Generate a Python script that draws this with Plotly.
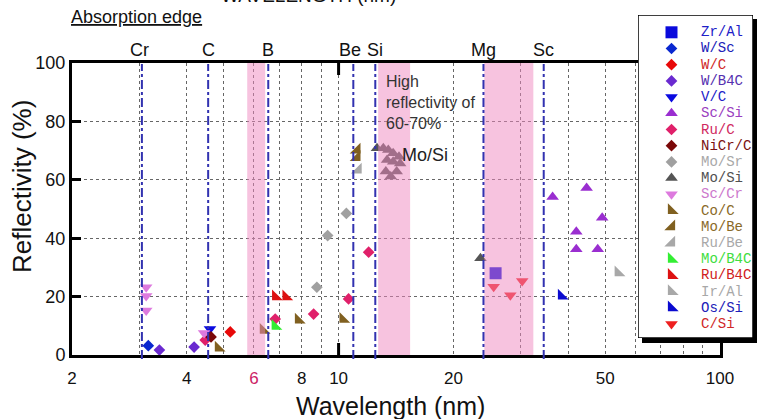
import math
import plotly.graph_objects as go

W, H = 757, 419

# ---------------- data (wavelength nm, reflectivity %) ----------------
series_names = ["Zr/Al", "W/Sc", "W/C", "W/B4C", "V/C", "Sc/Si", "Ru/C", "NiCr/C",
                "Mo/Sr", "Mo/Si", "Sc/Cr", "Co/C", "Mo/Be", "Ru/Be", "Mo/B4C",
                "Ru/B4C", "Ir/Al", "Os/Si", "C/Si"]

zr_al_wl = [25.8];  zr_al_r = [28.0]
w_sc_wl = [3.17];   w_sc_r = [3.2]
w_c_wl = [5.2];     w_c_r = [7.9]
w_b4c_wl = [3.39, 4.18]; w_b4c_r = [1.7, 2.7]
v_c_wl = [4.6];     v_c_r = [8.9]
sc_si_wl = [36.4, 44.7, 49.1, 42.0, 42.0, 47.8]
sc_si_r = [54.1, 57.2, 47.0, 42.2, 36.2, 36.2]
ru_c_wl = [4.47, 6.82, 8.6, 10.62, 11.99]
ru_c_r = [5.1, 12.3, 14.0, 19.2, 35.2]
nicr_c_wl = [4.63];  nicr_c_r = [6.2]
mo_sr_wl = [8.77, 9.36, 10.48]; mo_sr_r = [23.2, 40.9, 48.5]
mo_si_wl = [12.61, 13.1, 13.5, 13.9, 14.4, 13.4, 13.9, 14.5, 14.2, 13.3, 13.7, 23.55]
mo_si_r = [70.8, 70.8, 70.2, 69.1, 67.9, 66.8, 66.2, 65.6, 62.8, 62.8, 61.1, 33.1]
sc_cr_wl = [3.13, 3.13, 3.13, 4.44]; sc_cr_r = [23.2, 20.2, 15.2, 7.5]
co_c_wl = [4.84, 6.35, 7.85, 10.27]; co_c_r = [2.4, 8.5, 12.0, 12.3]
mo_be_wl = [11.17, 11.17]; mo_be_r = [70.2, 67.7]
ru_be_wl = [11.25];  ru_be_r = [63.4]
mo_b4c_wl = [6.82];  mo_b4c_r = [9.9]
ru_b4c_wl = [6.84, 7.28]; ru_b4c_r = [20.0, 20.0]
ir_al_wl = [54.1];   ir_al_r = [28.2]
os_si_wl = [38.4];   os_si_r = [20.2]
c_si_wl = [25.5, 28.2, 30.3]; c_si_r = [23.4, 20.5, 25.3]

series_x = [zr_al_wl, w_sc_wl, w_c_wl, w_b4c_wl, v_c_wl, sc_si_wl, ru_c_wl, nicr_c_wl,
            mo_sr_wl, mo_si_wl, sc_cr_wl, co_c_wl, mo_be_wl, ru_be_wl, mo_b4c_wl,
            ru_b4c_wl, ir_al_wl, os_si_wl, c_si_wl]
series_y = [zr_al_r, w_sc_r, w_c_r, w_b4c_r, v_c_r, sc_si_r, ru_c_r, nicr_c_r,
            mo_sr_r, mo_si_r, sc_cr_r, co_c_r, mo_be_r, ru_be_r, mo_b4c_r,
            ru_b4c_r, ir_al_r, os_si_r, c_si_r]

# absorption edges
edge_labels = ["Cr", "C", "B", "Be", "Si", "Mg", "Sc"]
edge_wl = [3.05, 4.55, 6.54, 10.93, 12.48, 23.98, 34.5]

# shaded bands
band_lo = [5.76, 12.7, 24.1]
band_hi = [6.42, 15.4, 32.4]

# axis ticks
x_tickvals = [2, 3, 4, 5, 6, 7, 8, 9, 10, 20, 30, 40, 50, 60, 70, 80, 90, 100]
x_ticktext = ["2", "", "4", "", '<span style="color:#cc2266">6</span>', "", "8", "", "10",
              "20", "", "", "50", "", "", "", "", "100"]
y_tickvals = [0, 20, 40, 60, 80, 100]

# ---------------- styles ----------------
symbols = ["square", "diamond", "diamond", "diamond", "triangle-down", "triangle-up",
           "diamond", "diamond", "diamond", "triangle-up", "triangle-down",
           "triangle-sw", "triangle-se", "triangle-se", "triangle-sw", "triangle-sw",
           "triangle-sw", "triangle-sw", "triangle-down"]
mcolors = ["#0a0adc", "#0a28d0", "#e80808", "#6a2ad0", "#0a0ae0", "#9a2ed0",
           "#e0206a", "#7a0808", "#a0a0a0", "#555555", "#dd7ade",
           "#806020", "#806020", "#a8a8a8", "#33ee33", "#dd1111",
           "#a8a8a8", "#0a0ad0", "#ee2020"]
tcolors = ["#2020c8", "#2020b8", "#d02828", "#5530b0", "#2020c8", "#9a40c0",
           "#d02860", "#7a1010", "#a8a8a8", "#505050", "#cc78cc",
           "#8a6a28", "#8a6a28", "#a8a8a8", "#40dd40", "#d02020",
           "#a8a8a8", "#2020b8", "#d02828"]
msizes = {"square": 12, "diamond": 9, "triangle-up": 11, "triangle-down": 11,
          "triangle-sw": 12, "triangle-se": 12}

def px2fx(px):
    return px / W

def py2fy(py):
    return 1 - py / H

X0, X1, Y0, Y1 = 72, 720, 63, 355          # plot area (pixels)
LX0, LX1, LY0, LY1 = 638, 753, 15, 338     # legend box (pixels)

fig = go.Figure()

for i, name in enumerate(series_names):
    fig.add_trace(go.Scatter(
        x=series_x[i], y=series_y[i], mode="markers", name=name, showlegend=False,
        marker=dict(symbol=symbols[i], size=msizes[symbols[i]], color=mcolors[i],
                    line=dict(width=0)),
        xaxis="x", yaxis="y", hoverinfo="skip"))

# custom legend (in its own small axes)
row0, rowstep = 32.3, 16.2
for i, name in enumerate(series_names):
    ry = row0 + rowstep * i
    fig.add_trace(go.Scatter(
        x=[671.5], y=[ry], mode="markers", showlegend=False,
        marker=dict(symbol=symbols[i], size=msizes[symbols[i]], color=mcolors[i],
                    line=dict(width=0)),
        xaxis="x2", yaxis="y2", hoverinfo="skip"))

shapes = []
# pink bands (drawn above markers, semi-transparent)
for lo, hi in zip(band_lo, band_hi):
    shapes.append(dict(type="rect", xref="x", yref="y", x0=lo, x1=hi, y0=0, y1=100,
                       fillcolor="#f088c0", opacity=0.5, line=dict(width=0),
                       layer="above"))
# absorption edge lines
for wl in edge_wl:
    shapes.append(dict(type="line", xref="x", yref="paper", x0=wl, x1=wl,
                       y0=py2fy(359), y1=py2fy(Y0 + 1),
                       line=dict(color="#3232b0", width=2, dash="dashdot"),
                       layer="above"))
# tick marks at 10 nm
shapes.append(dict(type="line", xref="x", yref="paper", x0=10, x1=10,
                   y0=py2fy(Y1), y1=py2fy(Y1 - 12), line=dict(color="black", width=3)))
shapes.append(dict(type="line", xref="x", yref="paper", x0=10, x1=10,
                   y0=py2fy(Y0), y1=py2fy(Y0 + 12), line=dict(color="black", width=3)))
# legend box
shapes.append(dict(type="rect", xref="x2", yref="y2", x0=LX0, x1=LX1, y0=LY1, y1=LY0,
                   fillcolor="white", line=dict(color="black", width=1.5), layer="below"))
# legend shadow
shapes.append(dict(type="rect", xref="paper", yref="paper", x0=px2fx(LX1), x1=px2fx(757),
                   y0=py2fy(343), y1=py2fy(LY0 + 4), fillcolor="black",
                   line=dict(width=0), layer="above"))
shapes.append(dict(type="rect", xref="paper", yref="paper", x0=px2fx(LX0 + 4), x1=px2fx(757),
                   y0=py2fy(343), y1=py2fy(LY1), fillcolor="black",
                   line=dict(width=0), layer="above"))

ann = []
FONT = "Liberation Sans, Arial, sans-serif"
for lab, wl in zip(edge_labels, edge_wl):
    xs = -3 if lab == "Be" else (-2 if lab == "Cr" else 0)
    ann.append(dict(text=lab, xref="x", yref="paper", x=math.log10(wl), y=py2fy(50),
                    xanchor="center", yanchor="middle", showarrow=False, xshift=xs,
                    font=dict(family=FONT, size=18, color="#111")))
for i, name in enumerate(series_names):
    ry = row0 + rowstep * i
    ann.append(dict(text=name, xref="x2", yref="y2", x=699, y=ry, xanchor="left",
                    yanchor="middle", showarrow=False,
                    font=dict(family="Liberation Mono, DejaVu Sans Mono, monospace",
                              size=14, color=tcolors[i])))
ann.append(dict(text="Absorption edge", xref="paper", yref="paper", x=px2fx(69),
                y=py2fy(17), xanchor="left", yanchor="middle", showarrow=False,
                font=dict(family=FONT, size=18, color="#111", lineposition="under")))
ann.append(dict(text="WAVELENGTH (nm)", xref="paper", yref="paper", x=px2fx(219),
                y=py2fy(-5), xanchor="left", yanchor="middle", showarrow=False,
                font=dict(family=FONT, size=19, color="#111")))
ann.append(dict(text="High<br>reflectivity of<br>60-70%", xref="paper", yref="paper",
                x=px2fx(384), y=py2fy(71), xanchor="left", yanchor="top", align="left",
                showarrow=False, font=dict(family=FONT, size=16, color="#333")))
ann.append(dict(text="Mo/Si", xref="paper", yref="paper", x=px2fx(400), y=py2fy(155),
                xanchor="left", yanchor="middle", showarrow=False,
                font=dict(family=FONT, size=18, color="#222")))
ann.append(dict(text="Reflectivity (%)", xref="paper", yref="paper", x=px2fx(22),
                y=py2fy(187), xanchor="center", yanchor="middle", textangle=-90,
                showarrow=False, font=dict(family=FONT, size=26, color="#111")))
ann.append(dict(text="Wavelength (nm)", xref="paper", yref="paper", x=px2fx(390),
                y=py2fy(406), xanchor="center", yanchor="middle",
                showarrow=False, font=dict(family=FONT, size=25, color="#111")))

fig.update_layout(
    width=W, height=H,
    margin=dict(l=0, r=0, t=0, b=0),
    paper_bgcolor="white", plot_bgcolor="white",
    font=dict(family=FONT, color="#111"),
    showlegend=False,
    shapes=shapes, annotations=ann,
    xaxis=dict(type="log", range=[math.log10(2), 2], domain=[X0 / W, X1 / W],
               tickvals=x_tickvals, ticktext=x_ticktext, ticks="",
               tickfont=dict(size=17, family=FONT, color="#111"),
               showgrid=True, gridcolor="#666", griddash="dot", gridwidth=1,
               showline=True, linecolor="black", linewidth=3, mirror=True,
               zeroline=False, ticklabelstandoff=6, automargin=False, fixedrange=True),
    yaxis=dict(range=[0, 100], domain=[1 - Y1 / H, 1 - Y0 / H],
               tickvals=y_tickvals, ticks="inside", ticklen=9, tickwidth=3,
               tickcolor="black", tickfont=dict(size=18, family=FONT, color="#111"),
               showgrid=True, gridcolor="#666", griddash="dot", gridwidth=1,
               showline=True, linecolor="black", linewidth=3, mirror=True,
               zeroline=False, automargin=False, fixedrange=True),
    xaxis2=dict(range=[LX0, LX1], domain=[LX0 / W, LX1 / W], visible=False,
                fixedrange=True),
    yaxis2=dict(range=[LY1, LY0], domain=[1 - LY1 / H, 1 - LY0 / H], visible=False,
                fixedrange=True),
)

fig.write_html("out.html")
